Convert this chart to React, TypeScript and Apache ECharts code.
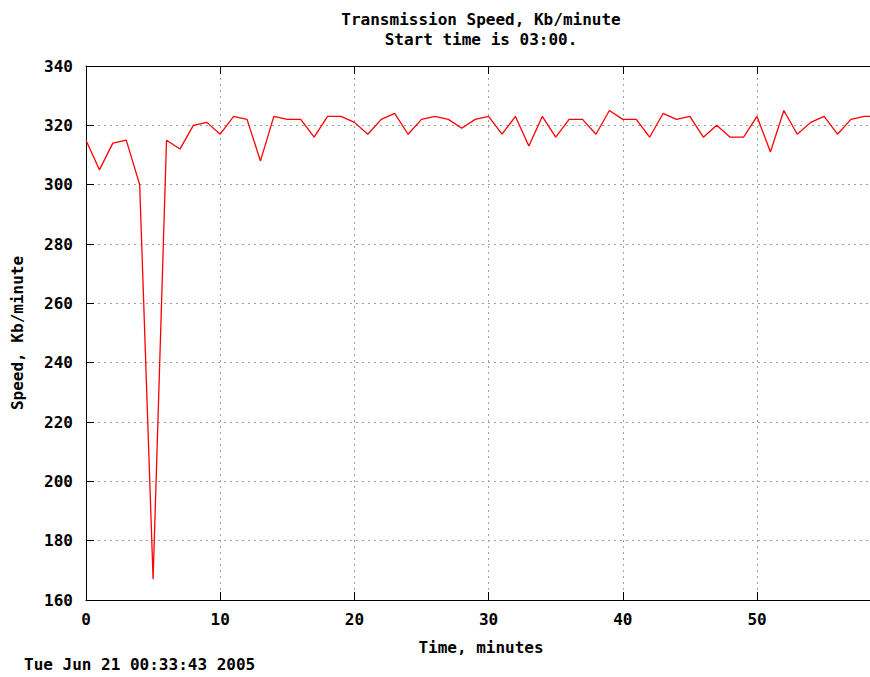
import React, { useEffect, useRef } from "react";
import * as echarts from "echarts";

const minutes: number[] = [
  0, 1, 2, 3, 4, 5, 6, 7, 8, 9,
  10, 11, 12, 13, 14, 15, 16, 17, 18, 19,
  20, 21, 22, 23, 24, 25, 26, 27, 28, 29,
  30, 31, 32, 33, 34, 35, 36, 37, 38, 39,
  40, 41, 42, 43, 44, 45, 46, 47, 48, 49,
  50, 51, 52, 53, 54, 55, 56, 57, 58, 59,
];

const speeds: number[] = [
  315, 305, 314, 315, 300, 167, 315, 312, 320, 321,
  317, 323, 322, 308, 323, 322, 322, 316, 323, 323,
  321, 317, 322, 324, 317, 322, 323, 322, 319, 322,
  323, 317, 323, 313, 323, 316, 322, 322, 317, 325,
  322, 322, 316, 324, 322, 323, 316, 320, 316, 316,
  323, 311, 325, 317, 321, 323, 317, 322, 323, 323,
];

const xTicks = { min: 0, max: 58.42, interval: 10 };
const yTicks = { min: 160, max: 340, interval: 20 };

const titleLines = ["Transmission Speed, Kb/minute", "Start time is 03:00."];
const xName = "Time, minutes";
const yName = "Speed, Kb/minute";
const footer = "Tue Jun 21 00:33:43 2005";

const FONT = "'DejaVu Sans Mono', 'Liberation Mono', monospace";
const FS = 16;

export default function App() {
  const ref = useRef<HTMLDivElement>(null);

  useEffect(() => {
    if (!ref.current) return;
    const chart = echarts.init(ref.current, undefined, { renderer: "svg" });
    const data = minutes.map((m, i) => [m, speeds[i]]);
    const textStyle = {
      fontFamily: FONT,
      fontWeight: "bold" as const,
      fontSize: FS,
      fill: "#000",
    };
    chart.setOption({
      animation: false,
      backgroundColor: "#ffffff",
      grid: { left: 86, top: 66, right: 0, bottom: 77, containLabel: false },
      xAxis: [
        {
          type: "value",
          position: "bottom",
          min: xTicks.min,
          max: xTicks.max,
          interval: xTicks.interval,
          axisLine: { show: true, onZero: false, lineStyle: { color: "#000", width: 1 } },
          axisTick: { show: true, inside: true, length: 8, lineStyle: { color: "#000" } },
          axisLabel: {
            show: true,
            margin: 11,
            color: "#000",
            fontFamily: FONT,
            fontWeight: "bold",
            fontSize: FS,
            showMaxLabel: false,
          },
          splitLine: {
            show: true,
            lineStyle: { color: "#a0a0a0", type: [2, 4], width: 1 },
          },
        },
        {
          type: "value",
          position: "top",
          min: xTicks.min,
          max: xTicks.max,
          interval: xTicks.interval,
          axisLine: { show: true, onZero: false, lineStyle: { color: "#000", width: 1 } },
          axisTick: { show: true, inside: true, length: 8, lineStyle: { color: "#000" } },
          axisLabel: { show: false },
          splitLine: { show: false },
        },
      ],
      yAxis: {
        type: "value",
        min: yTicks.min,
        max: yTicks.max,
        interval: yTicks.interval,
        axisLine: { show: true, onZero: false, lineStyle: { color: "#000", width: 1 } },
        axisTick: { show: true, inside: true, length: 8, lineStyle: { color: "#000" } },
        axisLabel: {
          show: true,
          margin: 13,
          color: "#000",
          fontFamily: FONT,
          fontWeight: "bold",
          fontSize: FS,
        },
        splitLine: {
          show: true,
          lineStyle: { color: "#a0a0a0", type: [2, 4], width: 1 },
        },
      },
      series: [
        {
          type: "line",
          xAxisIndex: 0,
          data,
          showSymbol: false,
          symbol: "none",
          clip: true,
          lineStyle: { color: "#ff0000", width: 1.3 },
          itemStyle: { color: "#ff0000" },
        },
      ],
      graphic: [
        {
          type: "text",
          x: 481,
          y: 19,
          style: { ...textStyle, text: titleLines[0], align: "center", verticalAlign: "middle" },
        },
        {
          type: "text",
          x: 481,
          y: 39,
          style: { ...textStyle, text: titleLines[1], align: "center", verticalAlign: "middle" },
        },
        {
          type: "text",
          x: 481,
          y: 647,
          style: { ...textStyle, text: xName, align: "center", verticalAlign: "middle" },
        },
        {
          type: "text",
          x: 17,
          y: 333,
          rotation: Math.PI / 2,
          style: { ...textStyle, text: yName, align: "center", verticalAlign: "middle" },
        },
        {
          type: "text",
          x: 24,
          y: 664,
          style: { ...textStyle, text: footer, align: "left", verticalAlign: "middle" },
        },
      ],
    });
    return () => chart.dispose();
  }, []);

  return (
    <div
      ref={ref}
      style={{ position: "fixed", left: 0, top: 0, width: 870, height: 677, background: "#fff" }}
    />
  );
}
